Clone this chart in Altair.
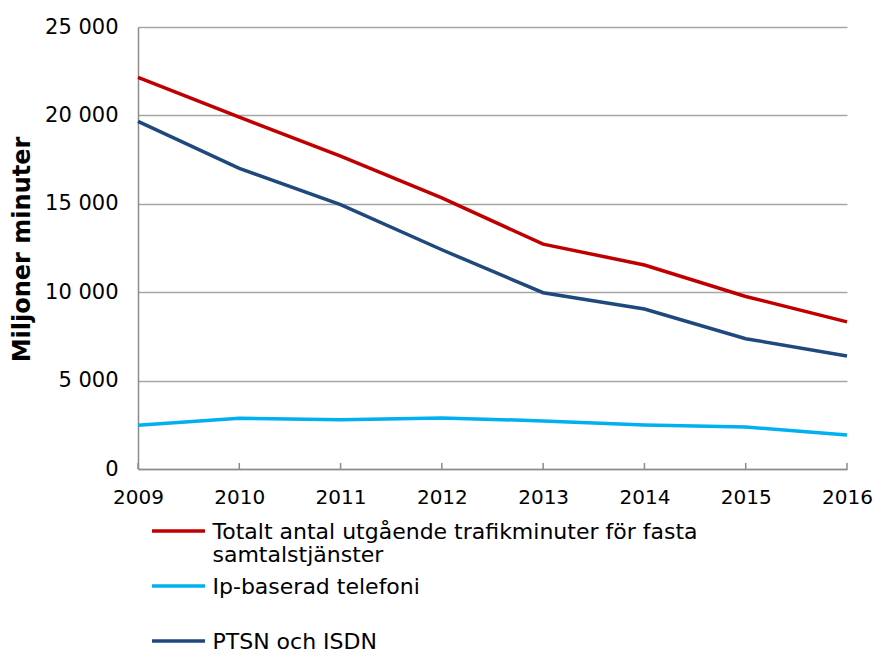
import altair as alt
import pandas as pd

years = [2009, 2010, 2011, 2012, 2013, 2014, 2015, 2016]
series_names = [
    "Totalt antal utgående trafikminuter för fasta samtalstjänster",
    "Ip-baserad telefoni",
    "PTSN och ISDN",
]
totalt = [22150, 19900, 17700, 15330, 12720, 11540, 9760, 8320]
ip = [2480, 2870, 2780, 2890, 2720, 2490, 2380, 1920]
ptsn = [19660, 17000, 14950, 12400, 9970, 9050, 7370, 6390]
colors = ["#C00000", "#00B0F0", "#1F497D"]
y_ticks = [0, 5000, 10000, 15000, 20000, 25000]

rows = []
for name, vals in zip(series_names, [totalt, ip, ptsn]):
    for yr, v in zip(years, vals):
        rows.append({"År": yr, "Serie": name, "Värde": v})
df = pd.DataFrame(rows)
tick_df = pd.DataFrame({"År": years})

FONT = "DejaVu Sans"

x_enc = alt.X(
    "År:Q",
    scale=alt.Scale(domain=[2009, 2016], nice=False, zero=False),
    axis=alt.Axis(
        values=years, format="d", title=None, grid=False, ticks=False,
        labelFontSize=20, labelFont=FONT, labelColor="#000000",
        labelPadding=18, domainColor="#8c8c8c", domainWidth=1.5,
        labelFlush=False,
    ),
)

lines = alt.Chart(df).mark_line(strokeWidth=3.5).encode(
    x=x_enc,
    y=alt.Y(
        "Värde:Q",
        scale=alt.Scale(domain=[0, 25000], nice=False),
        axis=alt.Axis(
            values=y_ticks, format=",d", title="Miljoner minuter",
            titleFont=FONT, titleFontSize=24, titleFontWeight="bold",
            titleColor="#000000", titleAngle=-90, titleX=-116, titleY=222,
            titleAlign="center", titleBaseline="middle",
            labelFontSize=21, labelFont=FONT, labelColor="#000000",
            labelPadding=20, ticks=False, grid=True, gridColor="#a6a6a6",
            gridWidth=1.5, domainColor="#8c8c8c", domainWidth=1.5,
            labelExpr="replace(datum.label, ',', ' ')",
        ),
    ),
    color=alt.Color(
        "Serie:N",
        scale=alt.Scale(domain=series_names, range=colors),
        sort=series_names,
        legend=alt.Legend(
            orient="none", legendX=15, legendY=483.5, title=None,
            direction="vertical",
            symbolType="M-5.3,1.9L5.3,1.9", symbolSize=100,
            symbolStrokeWidth=3.5, symbolOffset=14.5,
            labelFont=FONT, labelFontSize=22, labelColor="#000000",
            labelLimit=800, labelOffset=23, rowPadding=0,
            labelBaseline="top",
            labelExpr=(
                "datum.label == '" + series_names[0] + "' ? "
                "['Totalt antal utgående trafikminuter för fasta', 'samtalstjänster'] : "
                "[datum.label, '']"
            ),
        ),
    ),
)

ticks = alt.Chart(tick_df).mark_rule(color="#8c8c8c", strokeWidth=1.5).encode(
    x=alt.X("År:Q"),
    y=alt.value(436),
    y2=alt.value(442),
)

chart = alt.layer(ticks, lines).properties(
    width=709,
    height=442,
    padding={"left": 130, "top": 19, "right": 26, "bottom": 185},
    autosize=alt.AutoSizeParams(type="none"),
).configure(
    font=FONT,
    style={"guide-label": {"lineHeight": 23}},
).configure_view(stroke="transparent")

chart.save("out.html", embed_options={"renderer": "svg", "actions": False})
